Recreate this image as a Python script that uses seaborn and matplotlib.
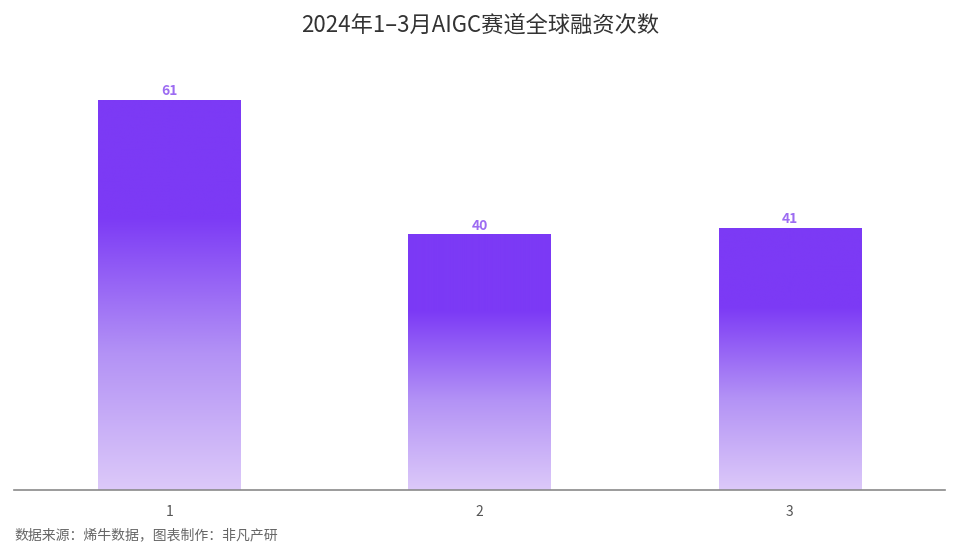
import numpy as np
import pandas as pd
import matplotlib
matplotlib.use('Agg')
import matplotlib.pyplot as plt
import seaborn as sns
from matplotlib.colors import LinearSegmentedColormap

# data
months = ['1', '2', '3']
deal_counts = [61, 40, 41]
title_text = '2024年1–3月AIGC赛道全球融资次数'
source_text = '数据来源：烯牛数据，图表制作：非凡产研'

sns.set_theme(style='white')
plt.rcParams['font.family'] = ['Noto Sans CJK SC', 'DejaVu Sans']

df = pd.DataFrame({'month': months, 'count': deal_counts})

fig = plt.figure(figsize=(9.6, 5.57), dpi=100)
ax = fig.add_axes([0.0146, 0.1203, 0.9698, 0.772])

sns.barplot(data=df, x='month', y='count', color='#7c3af5', width=0.458,
            saturation=1, ax=ax)

# vertical gradient: solid purple on top, fading to pale lilac at the base
grad_cmap = LinearSegmentedColormap.from_list(
    'bar_grad', [(0.0, '#dcc9f9'), (0.35, '#b392f5'), (0.70, '#7c3af5'), (1.0, '#7c3af5')])
grad = np.linspace(0, 1, 256).reshape(-1, 1)
for patch in ax.patches:
    x0, y0 = patch.get_x(), patch.get_y()
    w, h = patch.get_width(), patch.get_height()
    img = ax.imshow(grad, cmap=grad_cmap, origin='lower', aspect='auto',
                    extent=[x0, x0 + w, y0, y0 + h], zorder=patch.get_zorder() + 0.1)
    img.set_clip_path(patch)
    patch.set_edgecolor('none')

for i, v in enumerate(deal_counts):
    ax.text(i, v + 0.3, str(v), ha='center', va='bottom', fontsize=10,
            fontweight='bold', color='#9d6cf2')

ax.set_xlim(-0.5, 2.5)
ax.set_ylim(0, 67.3)
ax.set_xlabel('')
ax.set_ylabel('')
ax.set_yticks([])
ax.tick_params(axis='x', length=0, pad=11, labelsize=10, labelcolor='#555555')
for side in ['top', 'right', 'left']:
    ax.spines[side].set_visible(False)
ax.spines['bottom'].set_color('#8a8a8a')
ax.spines['bottom'].set_linewidth(1.2)

fig.text(0.5, 1 - 25 / 557, title_text, ha='center', va='center',
         fontsize=16, color='#333333')
fig.text(14 / 960, 1 - 535 / 557, source_text, ha='left', va='center',
         fontsize=10, color='#666666')

fig.savefig('out.png', dpi=100)
